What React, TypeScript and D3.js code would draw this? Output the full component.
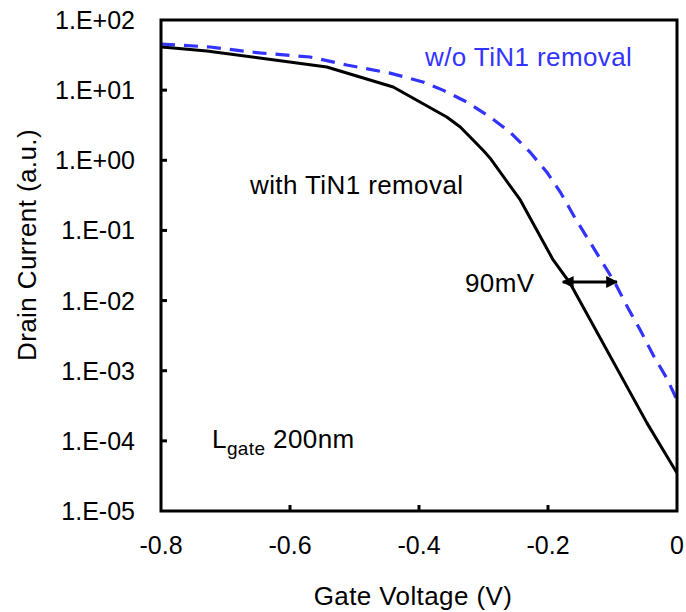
import React from "react";
import * as d3 from "d3";

const withVg = [-0.8, -0.781, -0.729, -0.647, -0.543, -0.44, -0.357, -0.336, -0.301, -0.29, -0.243, -0.192, -0.166, -0.0465, 0];
const withId = [41.2, 39.9, 36.1, 28.7, 21.4, 11.1, 4.14, 2.98, 1.4, 1.08, 0.272, 0.0379, 0.0178, 1.79e-4, 3.47e-5];

const woVg = [-0.8, -0.724, -0.647, -0.569, -0.512, -0.445, -0.394, -0.363, -0.326, -0.29, -0.259, -0.228, -0.202, -0.181, -0.158, -0.116, -0.096, -0.076, -0.057, -0.037, -0.016, 0];
const woId = [45.5, 41.2, 33.9, 29.7, 22.8, 17.5, 13.1, 10.0, 6.78, 4.14, 2.53, 1.31, 0.68, 0.353, 0.15, 0.0355, 0.0178, 0.00783, 0.0038, 0.00167, 7.87e-4, 3.82e-4];

const xTicks = [-0.8, -0.6, -0.4, -0.2, 0];
const xTickLabels = ["-0.8", "-0.6", "-0.4", "-0.2", "0"];
const yTicks = [1e2, 1e1, 1e0, 1e-1, 1e-2, 1e-3, 1e-4, 1e-5];
const yTickLabels = ["1.E+02", "1.E+01", "1.E+00", "1.E-01", "1.E-02", "1.E-03", "1.E-04", "1.E-05"];

const arrowX = [-0.177, -0.093];
const arrowY = 0.0184;

const W = 686;
const H = 612;
const L = 161, R = 677, T = 20, B = 511;
const FONT = "Arial, 'Liberation Sans', sans-serif";
const FS = 25;
const FS2 = 26;
const LS = 0.4;
const BLUE = "#3333ff";

export default function App() {
  const x = d3.scaleLinear().domain([-0.8, 0]).range([L, R]);
  const y = d3.scaleLog().domain([1e-5, 1e2]).range([B, T]);
  const line = d3
    .line<[number, number]>()
    .x((d) => x(d[0]))
    .y((d) => y(d[1]));
  const withPts = withVg.map((v, i) => [v, withId[i]] as [number, number]);
  const woPts = woVg.map((v, i) => [v, woId[i]] as [number, number]);
  const ay = y(arrowY);
  const ax1 = x(arrowX[0]);
  const ax2 = x(arrowX[1]);

  return (
    <svg width={W} height={H} style={{ position: "absolute", left: 0, top: 0, background: "#fff" }} fontFamily={FONT}>
      <defs>
        <clipPath id="plotclip">
          <rect x={L} y={T} width={R - L} height={B - T} />
        </clipPath>
        <marker id="ah" viewBox="0 0 10 10" refX="9" refY="5" markerWidth="4" markerHeight="4" orient="auto-start-reverse" markerUnits="strokeWidth">
          <path d="M0,0 L10,5 L0,10 Z" fill="#000" />
        </marker>
      </defs>
      <rect x={0} y={0} width={W} height={H} fill="#fff" />
      <g clipPath="url(#plotclip)">
        <path d={line(woPts) || ""} fill="none" stroke={BLUE} strokeWidth={3.2} strokeDasharray="14 9" />
        <path d={line(withPts) || ""} fill="none" stroke="#000" strokeWidth={3} strokeLinejoin="round" />
      </g>
      {yTicks.slice(1, -1).map((t, i) => (
        <line key={"yt" + i} x1={L} x2={L + 6} y1={y(t)} y2={y(t)} stroke="#000" strokeWidth={3} />
      ))}
      {xTicks.slice(1, -1).map((t, i) => (
        <line key={"xt" + i} x1={x(t)} x2={x(t)} y1={B} y2={B - 6} stroke="#000" strokeWidth={3} />
      ))}
      <rect x={L} y={T} width={R - L} height={B - T} fill="none" stroke="#000" strokeWidth={3} />
      {yTicks.map((t, i) => (
        <text key={"yl" + i} x={135} y={y(t) + 9} fontSize={FS} textAnchor="end" fill="#000">
          {yTickLabels[i]}
        </text>
      ))}
      {xTicks.map((t, i) => (
        <text key={"xl" + i} x={x(t)} y={554} fontSize={FS} textAnchor="middle" fill="#000">
          {xTickLabels[i]}
        </text>
      ))}
      <text x={413} y={605} fontSize={FS2} letterSpacing={LS} textAnchor="middle" fill="#000">
        Gate Voltage (V)
      </text>
      <text transform="translate(36,245) rotate(-90)" fontSize={FS2} letterSpacing={LS} textAnchor="middle" fill="#000">
        Drain Current (a.u.)
      </text>
      <text x={425} y={66} fontSize={FS2} letterSpacing={LS} fill={BLUE}>
        w/o TiN1 removal
      </text>
      <text x={250} y={194} fontSize={FS2} letterSpacing={LS} fill="#000">
        with TiN1 removal
      </text>
      <text x={465} y={292} fontSize={FS2} letterSpacing={LS} fill="#000">
        90mV
      </text>
      <text x={212} y={448} fontSize={FS2} letterSpacing={LS} fill="#000">
        L
        <tspan fontSize={19} dy={7}>gate</tspan>
        <tspan dy={-7}> 200nm</tspan>
      </text>
      <line x1={ax1} x2={ax2} y1={ay} y2={ay} stroke="#000" strokeWidth={3} markerStart="url(#ah)" markerEnd="url(#ah)" />
    </svg>
  );
}
